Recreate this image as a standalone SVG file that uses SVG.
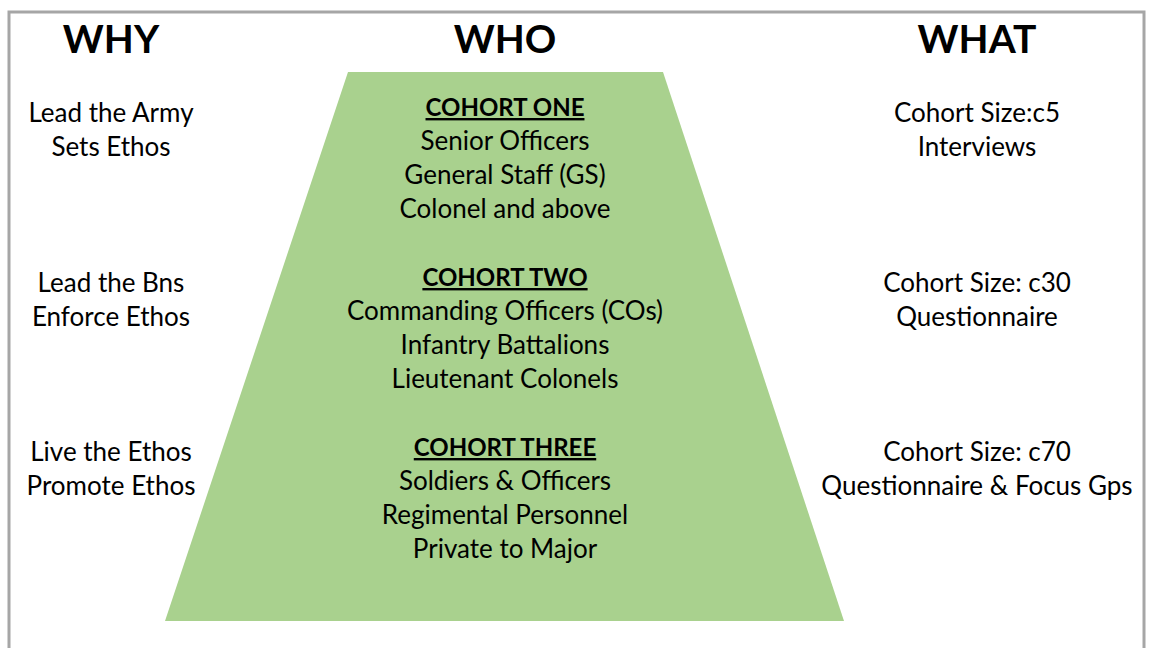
<svg xmlns="http://www.w3.org/2000/svg" width="1149" height="648" viewBox="0 0 1149 648">
  <style>
    text { font-family: Lato, "Open Sans", "Liberation Sans", sans-serif; fill: #000; text-anchor: middle; }
    .head { font-size: 39px; font-weight: 700; }
    .body { font-size: 26px; }
    .title { font-size: 24px; font-weight: 700; text-decoration: underline; }
  </style>
  <rect x="0" y="0" width="1149" height="648" fill="#ffffff"/>
  <!-- outer frame -->
  <rect x="9" y="12" width="1135" height="660" fill="none" stroke="#a6a6a6" stroke-width="3"/>

  <!-- column headings -->
  <g id="headings">
    <text class="head" x="111" y="53">WHY</text>
    <text class="head" x="505" y="53">WHO</text>
    <text class="head" x="977" y="53">WHAT</text>
  </g>

  <!-- pyramid of cohorts -->
  <g id="pyramid">
    <polygon points="348,72 663,72 844,621 165,621" fill="#a9d18e"/>
  </g>

  <g id="cohort-one">
    <text class="title" x="505" y="116">COHORT ONE</text>
    <text class="body" x="505" y="150">Senior Officers</text>
    <text class="body" x="505" y="184">General Staff (GS)</text>
    <text class="body" x="505" y="218">Colonel and above</text>
  </g>
  <g id="cohort-two">
    <text class="title" x="505" y="286">COHORT TWO</text>
    <text class="body" x="505" y="320">Commanding Officers (COs)</text>
    <text class="body" x="505" y="354">Infantry Battalions</text>
    <text class="body" x="505" y="388">Lieutenant Colonels</text>
  </g>
  <g id="cohort-three">
    <text class="title" x="505" y="456">COHORT THREE</text>
    <text class="body" x="505" y="490">Soldiers &amp; Officers</text>
    <text class="body" x="505" y="524">Regimental Personnel</text>
    <text class="body" x="505" y="558">Private to Major</text>
  </g>

  <!-- WHY column -->
  <g id="why-one">
    <text class="body" x="111" y="122">Lead the Army</text>
    <text class="body" x="111" y="156">Sets Ethos</text>
  </g>
  <g id="why-two">
    <text class="body" x="111" y="292">Lead the Bns</text>
    <text class="body" x="111" y="326">Enforce Ethos</text>
  </g>
  <g id="why-three">
    <text class="body" x="111" y="461">Live the Ethos</text>
    <text class="body" x="111" y="495">Promote Ethos</text>
  </g>

  <!-- WHAT column -->
  <g id="what-one">
    <text class="body" x="977" y="122">Cohort Size:c5</text>
    <text class="body" x="977" y="156">Interviews</text>
  </g>
  <g id="what-two">
    <text class="body" x="977" y="292">Cohort Size: c30</text>
    <text class="body" x="977" y="326">Questionnaire</text>
  </g>
  <g id="what-three">
    <text class="body" x="977" y="461">Cohort Size: c70</text>
    <text class="body" x="977" y="495">Questionnaire &amp; Focus Gps</text>
  </g>
</svg>
